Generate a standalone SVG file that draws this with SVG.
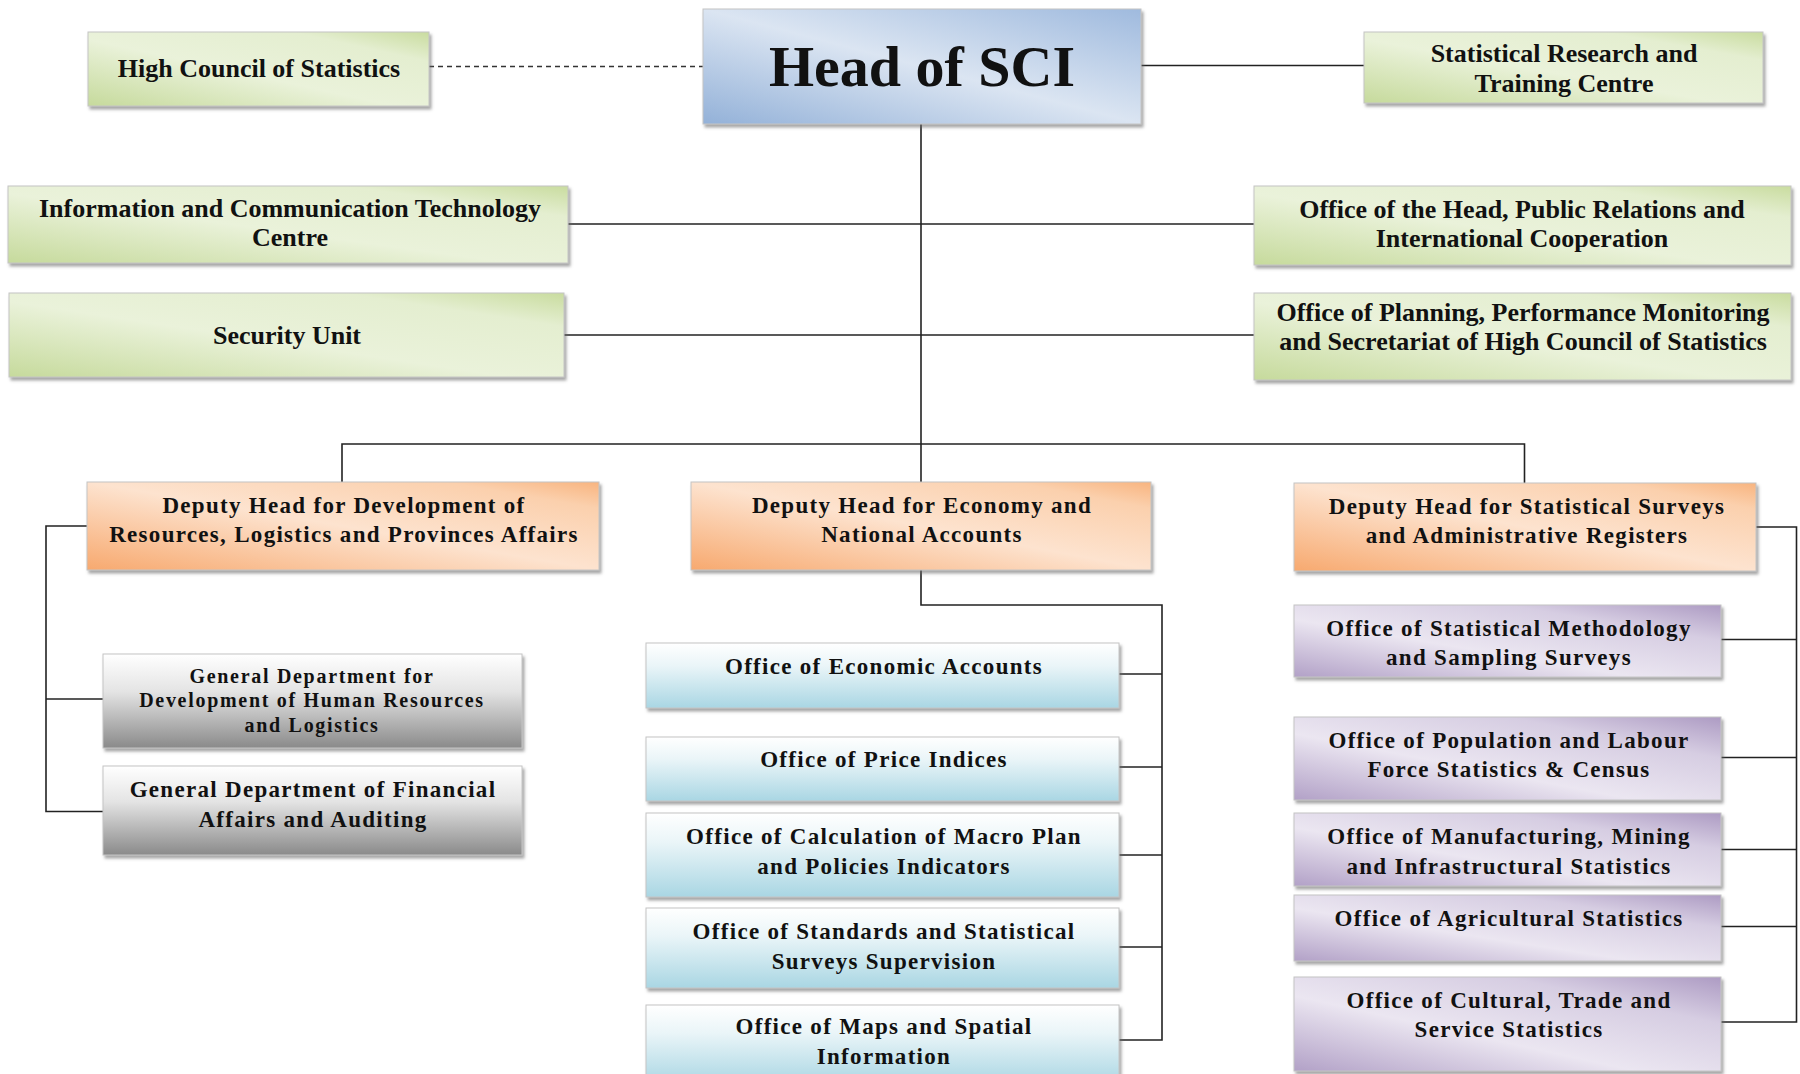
<svg xmlns="http://www.w3.org/2000/svg" width="1800" height="1074" viewBox="0 0 1800 1074">
<defs>
<linearGradient id="gGreen" x1="0" y1="1" x2="1" y2="0">
<stop offset="0" stop-color="#c6da9c"/><stop offset="0.45" stop-color="#eaf2da"/><stop offset="0.8" stop-color="#e4eed0"/><stop offset="1" stop-color="#c9dc9f"/>
</linearGradient>
<linearGradient id="gHead" x1="0" y1="1" x2="1" y2="0">
<stop offset="0" stop-color="#93b1d8"/><stop offset="0.5" stop-color="#dbe5f2"/><stop offset="1" stop-color="#9fbade"/>
</linearGradient>
<linearGradient id="gOrange" x1="0" y1="1" x2="1" y2="0">
<stop offset="0" stop-color="#f7a96f"/><stop offset="0.5" stop-color="#fde3cf"/><stop offset="0.85" stop-color="#fbd0ad"/><stop offset="1" stop-color="#f8b47f"/>
</linearGradient>
<linearGradient id="gGray" x1="0" y1="0" x2="0" y2="1">
<stop offset="0" stop-color="#ffffff"/><stop offset="0.4" stop-color="#e4e4e4"/><stop offset="1" stop-color="#8a8a8a"/>
</linearGradient>
<linearGradient id="gBlue" x1="0" y1="0" x2="0" y2="1">
<stop offset="0" stop-color="#ffffff"/><stop offset="0.35" stop-color="#eaf5f8"/><stop offset="1" stop-color="#a9d6e3"/>
</linearGradient>
<linearGradient id="gPurple" x1="0" y1="1" x2="1" y2="0">
<stop offset="0" stop-color="#b2a1c7"/><stop offset="0.4" stop-color="#ebe6f1"/><stop offset="0.75" stop-color="#d6cde2"/><stop offset="1" stop-color="#ad9bc3"/>
</linearGradient>
<filter id="sh" x="-5%" y="-10%" width="110%" height="130%">
<feDropShadow dx="2" dy="3" stdDeviation="1.5" flood-color="#6b6b6b" flood-opacity="0.6"/>
</filter>
<style>
.box{stroke:#c4c4c4;stroke-width:1;filter:url(#sh)}
.green{fill:url(#gGreen)}
.head{fill:url(#gHead)}
.orange{fill:url(#gOrange)}
.gray{fill:url(#gGray)}
.blue{fill:url(#gBlue)}
.purple{fill:url(#gPurple)}
text{font-family:"Liberation Serif","Times New Roman",serif;font-weight:bold;fill:#111;text-anchor:middle}
.t1{font-size:26px}
.t2{font-size:23px;letter-spacing:1.3px}
.t3{font-size:20px;letter-spacing:1.7px}
.big{font-size:58px}
.ln{stroke:#222;stroke-width:1.6;fill:none}
.dash{stroke:#333;stroke-width:1.6;fill:none;stroke-dasharray:5 4}
</style>
</defs>
<rect width="1800" height="1074" fill="#ffffff"/>

<g id="connectors">
<line class="dash" x1="429" y1="66.5" x2="703" y2="66.5"/>
<line class="ln" x1="1141" y1="65.5" x2="1364" y2="65.5"/>
<line class="ln" x1="921" y1="124" x2="921" y2="482"/>
<line class="ln" x1="568" y1="224" x2="1254" y2="224"/>
<line class="ln" x1="564" y1="335" x2="1254" y2="335"/>
<polyline class="ln" points="342,482 342,444 1524.5,444 1524.5,483"/>
<polyline class="ln" points="87,526 46,526 46,811.5 103,811.5"/>
<line class="ln" x1="46" y1="699" x2="103" y2="699"/>
<polyline class="ln" points="921,570 921,605 1162,605 1162,1040 1119,1040"/>
<line class="ln" x1="1119" y1="674" x2="1162" y2="674"/>
<line class="ln" x1="1119" y1="767" x2="1162" y2="767"/>
<line class="ln" x1="1119" y1="855" x2="1162" y2="855"/>
<line class="ln" x1="1119" y1="947" x2="1162" y2="947"/>
<polyline class="ln" points="1756,527 1796.5,527 1796.5,1022 1721,1022"/>
<line class="ln" x1="1721" y1="639.5" x2="1796.5" y2="639.5"/>
<line class="ln" x1="1721" y1="757.5" x2="1796.5" y2="757.5"/>
<line class="ln" x1="1721" y1="849.5" x2="1796.5" y2="849.5"/>
<line class="ln" x1="1721" y1="926.5" x2="1796.5" y2="926.5"/>
</g>

<g id="head">
<rect class="box head" x="703" y="9" width="438" height="115"/>
<text class="big" x="922" y="86">Head of SCI</text>
</g>
<g id="high-council">
<rect class="box green" x="88" y="32" width="341" height="74"/>
<text class="t1" x="259" y="76.5">High Council of Statistics</text>
</g>
<g id="research-centre">
<rect class="box green" x="1364" y="32" width="399" height="71"/>
<text class="t1" x="1564" y="61.5">Statistical Research and</text>
<text class="t1" x="1564" y="91.5">Training Centre</text>
</g>
<g id="ict-centre">
<rect class="box green" x="8" y="186" width="560" height="77"/>
<text class="t1" x="290" y="216.5">Information and Communication Technology</text>
<text class="t1" x="290" y="245.5">Centre</text>
</g>
<g id="security-unit">
<rect class="box green" x="9" y="293" width="555" height="84"/>
<text class="t1" x="287" y="344">Security Unit</text>
</g>
<g id="office-head">
<rect class="box green" x="1254" y="186" width="537" height="79"/>
<text class="t1" x="1522" y="218">Office of the Head, Public Relations and</text>
<text class="t1" x="1522" y="246.5">International Cooperation</text>
</g>
<g id="office-planning">
<rect class="box green" x="1254" y="293" width="537" height="87"/>
<text class="t1" x="1523" y="321">Office of Planning, Performance Monitoring</text>
<text class="t1" x="1523" y="350">and Secretariat of High Council of Statistics</text>
</g>

<g id="deputy-development">
<rect class="box orange" x="87" y="482" width="512" height="88"/>
<text class="t2" x="344" y="513">Deputy Head for Development of</text>
<text class="t2" x="344" y="542">Resources, Logistics and Provinces Affairs</text>
</g>
<g id="deputy-economy">
<rect class="box orange" x="691" y="482" width="460" height="88"/>
<text class="t2" x="922" y="513">Deputy Head for Economy and</text>
<text class="t2" x="922" y="542">National Accounts</text>
</g>
<g id="deputy-surveys">
<rect class="box orange" x="1294" y="483" width="462" height="88"/>
<text class="t2" x="1527" y="514">Deputy Head for Statistical Surveys</text>
<text class="t2" x="1527" y="543">and Administrative Registers</text>
</g>

<g id="gd-human-resources">
<rect class="box gray" x="103" y="654" width="419" height="94"/>
<text class="t3" x="312" y="683">General Department for</text>
<text class="t3" x="312" y="707">Development of Human Resources</text>
<text class="t3" x="312" y="732">and Logistics</text>
</g>
<g id="gd-financial">
<rect class="box gray" x="103" y="766" width="419" height="89"/>
<text class="t2" x="313" y="797">General Department of Financial</text>
<text class="t2" x="313" y="826.5">Affairs and Auditing</text>
</g>

<g id="office-economic-accounts">
<rect class="box blue" x="646" y="643" width="473" height="65"/>
<text class="t2" x="884" y="674">Office of Economic Accounts</text>
</g>
<g id="office-price-indices">
<rect class="box blue" x="646" y="737" width="473" height="64"/>
<text class="t2" x="884" y="767">Office of Price Indices</text>
</g>
<g id="office-macro-plan">
<rect class="box blue" x="646" y="813" width="473" height="84"/>
<text class="t2" x="884" y="844">Office of Calculation of Macro Plan</text>
<text class="t2" x="884" y="874">and Policies Indicators</text>
</g>
<g id="office-standards">
<rect class="box blue" x="646" y="908" width="473" height="80"/>
<text class="t2" x="884" y="939">Office of Standards and Statistical</text>
<text class="t2" x="884" y="969">Surveys Supervision</text>
</g>
<g id="office-maps">
<rect class="box blue" x="646" y="1005" width="473" height="80"/>
<text class="t2" x="884" y="1034">Office of Maps and Spatial</text>
<text class="t2" x="884" y="1064">Information</text>
</g>

<g id="office-methodology">
<rect class="box purple" x="1294" y="605" width="427" height="72"/>
<text class="t2" x="1509" y="636">Office of Statistical Methodology</text>
<text class="t2" x="1509" y="665">and Sampling Surveys</text>
</g>
<g id="office-population">
<rect class="box purple" x="1294" y="717" width="427" height="83"/>
<text class="t2" x="1509" y="748">Office of Population and Labour</text>
<text class="t2" x="1509" y="777">Force Statistics &amp; Census</text>
</g>
<g id="office-manufacturing">
<rect class="box purple" x="1294" y="813" width="427" height="73"/>
<text class="t2" x="1509" y="844">Office of Manufacturing, Mining</text>
<text class="t2" x="1509" y="874">and Infrastructural Statistics</text>
</g>
<g id="office-agricultural">
<rect class="box purple" x="1294" y="895" width="427" height="66"/>
<text class="t2" x="1509" y="926">Office of Agricultural Statistics</text>
</g>
<g id="office-cultural">
<rect class="box purple" x="1294" y="977" width="427" height="94"/>
<text class="t2" x="1509" y="1008">Office of Cultural, Trade and</text>
<text class="t2" x="1509" y="1037">Service Statistics</text>
</g>
</svg>
